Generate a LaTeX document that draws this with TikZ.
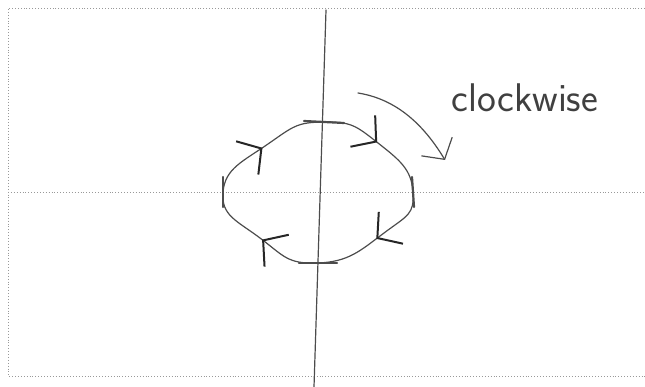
\documentclass[tikz,border=0pt]{standalone}
\usetikzlibrary{arrows.meta,decorations.markings}

\begin{document}
\begin{tikzpicture}[x=1pt,y=-1pt,
  pen/.style={draw=black!70,line width=1.2pt,line cap=round,line join=round},
  frame/.style={draw=black!40,dotted,line width=0.9pt},
  axtick/.style={pen,line width=2.2pt},
  barb/.tip={Straight Barb[length=15pt,width=36pt]},
  headbarb/.tip={Straight Barb[length=17pt,width=40pt,line width=2pt,color=black!85]},
  flow/.style={postaction={decorate,decoration={markings,
    mark=between positions 0.125 and 0.9 step 0.25 with {\arrow{headbarb}}}}}]
\useasboundingbox (0,0) rectangle (645,387);
% paper frame and axes
\draw[frame] (645,8) -- (8,8) -- (8,376) -- (645,376);
\coordinate (xl) at (8,192); \coordinate (xr) at (645,192);
\coordinate (ytop) at (326,10); \coordinate (ybot) at (314,387);
\draw[frame] (xl) -- (xr);
\draw[pen] (ytop) -- (ybot);
% the loop, run clockwise
\coordinate (top) at (324,122); \coordinate (ur) at (378,143);
\coordinate (right) at (413,192); \coordinate (lr) at (384,233);
\coordinate (bottom) at (318,263); \coordinate (ll) at (260,238);
\coordinate (left) at (223,192); \coordinate (ul) at (268,144);
\draw[pen,flow] plot[smooth cycle,tension=0.9] coordinates
  {(ur) (right) (lr) (bottom) (ll) (left) (ul) (top)};
\foreach \p/\dx/\dy in {top/20/1,bottom/19/0,left/0/15,right/1/15}
  \draw[axtick] (\p) ++(-\dx,-\dy) -- ++(2*\dx,2*\dy);
% direction note
\node[font=\sffamily\fontsize{40}{44}\selectfont,text=black!75] (cw) at (525,98) {clockwise};
\coordinate (cwfrom) at (358,93); \coordinate (cwto) at (445,160);
\draw[pen,-barb] (cwfrom) .. controls (402,100) and (428,132) .. (cwto);
\end{tikzpicture}
\end{document}
